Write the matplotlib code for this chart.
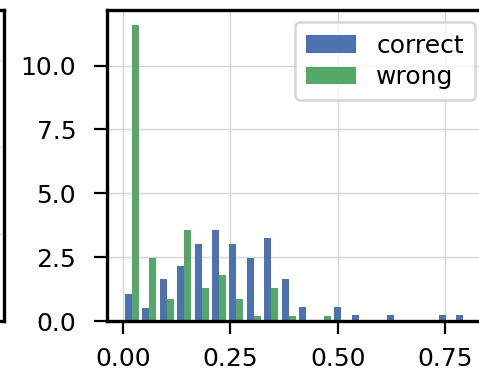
import numpy as np
import matplotlib.pyplot as plt

# histogram (density), 20 equal bins
bin_lo = 0.0
bin_hi = 0.813
n_bins = 20
correct = [1.06, 0.52, 1.64, 2.16, 3.01, 3.55, 3.01, 2.45, 3.26, 1.64,
           0.54, 0.0, 0.54, 0.25, 0.0, 0.25, 0.0, 0.0, 0.25, 0.25]
wrong = [11.6, 2.45, 0.87, 3.58, 1.31, 1.80, 0.87, 0.21, 1.31, 0.21,
         0.0, 0.21, 0.0, 0.0, 0.0, 0.0, 0.0, 0.0, 0.0, 0.0]
labels = ['correct', 'wrong']
colors = ['#4C72B0', '#55A868']

edges = np.linspace(bin_lo, bin_hi, n_bins + 1)
centers = (edges[:-1] + edges[1:]) / 2

plt.rcParams['font.family'] = 'DejaVu Sans'
fig = plt.figure(figsize=(4.79, 3.74), dpi=100)

# piece of the neighbouring panel on the left
ax0 = fig.add_axes([-0.5, 0.1417, 0.509, 0.8316])
ax0.set_xticks([])
ax0.set_yticks([0.28, 0.56, 0.84])
ax0.set_ylim(0, 1)
ax0.tick_params(left=False, labelleft=False)
ax0.grid(True, color='#dddddd', linewidth=1)
for s in ax0.spines.values():
    s.set_linewidth(2.4)
    s.set_color('black')

ax = fig.add_axes([0.2244, 0.1417, 0.7935, 0.8316])
ax.hist([centers, centers], bins=edges, weights=[correct, wrong],
        color=colors, label=labels)
ax.set_xticks([0.0, 0.25, 0.5, 0.75])
ax.set_yticks([0.0, 2.5, 5.0, 7.5, 10.0])
ax.set_xticklabels(['0.00', '0.25', '0.50', '0.75'])
ax.set_yticklabels(['0.0', '2.5', '5.0', '7.5', '10.0'])
ax.grid(True, color='#d5d5d5', linewidth=1)
ax.set_axisbelow(True)
ax.tick_params(labelsize=18, length=9.5, width=1.6, direction='out')
ax.tick_params(axis='x', pad=9)
ax.tick_params(axis='y', pad=13)
for s in ax.spines.values():
    s.set_linewidth(2.4)
    s.set_color('black')

leg = ax.legend(loc='upper right', fontsize=18, frameon=True, fancybox=True,
                handlelength=2.0, handleheight=0.7, borderpad=0.45,
                labelspacing=0.3, handletextpad=0.8, borderaxespad=0.5)
leg.get_frame().set_edgecolor('#cccccc')
leg.get_frame().set_linewidth(1.8)

fig.savefig('out.png', dpi=100)
